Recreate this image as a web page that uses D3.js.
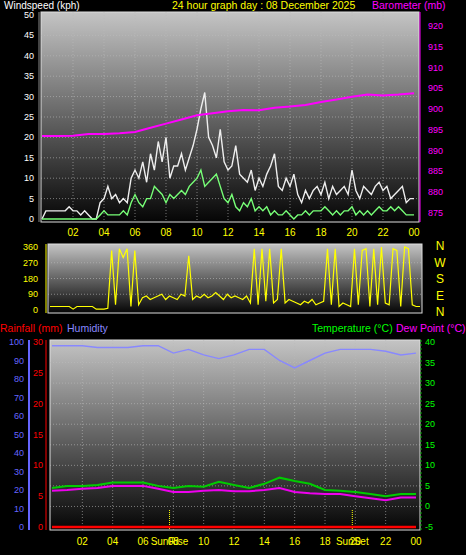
<!DOCTYPE html>
<html><head><meta charset="utf-8">
<script src="https://cdn.jsdelivr.net/npm/d3@7"></script>
<style>body{margin:0;background:#000}svg{display:block;font-family:"Liberation Sans",Arial,sans-serif}</style>
</head><body><svg id="c" width="466" height="555"></svg>
<script>
// 15 minute samples, 00:00 .. 24:00
var gust = [0,2,2,2, 2,2,2,3, 2,2,1,2, 1,0,0,4, 5,8,5,6, 4,5,4,10, 12,10,14,9, 16,12,19,14, 20,10,13,13, 16,12,15,18,
  22,27,31,20, 18,15,22,14, 12,13,18,11, 10,9,12,7, 10,8,11,13, 16,8,7,10, 8,11,6,4, 7,5,7,8, 6,9,5,8, 6,7,8,6,
  12,7,5,8, 7,6,8,9, 7,8,5,6, 7,8,4,5, 5];
var avgWind = [0,0,0,0, 0,0,0,0, 0,0,0,0, 0,0,0,1, 2,1,1,1, 1,2,1,4, 6,4,3,5, 5,8,7,6, 4,6,5,6, 7,6,8,9,
  10,12,8,9, 10,11,8,5, 4,6,3,2, 4,3,5,2, 3,2,3,1, 2,1,1,2, 1,0,1,1, 2,1,2,2, 2,3,2,1, 2,1,2,2,
  3,1,2,1, 2,1,2,3, 2,2,3,2, 3,2,1,1, 1];
var windDir = [20,20,20,20, 20,20,5,20, 20,20,20,20, 5,5,5,10, 340,30,350,300, 350,20,340,30, 70,80,60,70, 80,90,60,80,
  70,60,90,80, 310,60,80,70, 90,70,80,100, 80,60,90,70, 80,70,60,80, 40,350,30,350, 50,350,40,60, 350,40,60,50,
  40,30,50,40, 60,30,40,50, 350,30,350,20, 40,30,20,350, 30,340,350,20, 350,30,360,40, 30,350,340,20, 360,350,30,20, 20];
// hourly
var baro = [893.5,893.5,893.6,894,894,894.2,894.5,895.5,896.5,897.5,898.5,899,899.5,899.8,899.7,900.3,900.6,901,901.7,902.3,903,903.5,903.3,903.5,903.8];
var temp = [4.5,5,5,5.2,5.8,5.8,5.8,5,4.5,5,4.8,6,5.2,4.5,5.5,7,6.2,5.5,4,3.8,3.5,3,2.5,3,3];
var dew = [3.8,4,4.3,4.5,5,5,5,4.3,3.5,3.5,3.8,4,3.7,3.7,4,4.5,3.5,3.2,3,3,2.5,2,1.5,2.2,2.2];
var humidity = [98,98,98,97,97,97,98,98,94,96,93,91,93,96,96,90,86,90,94,96,96,96,95,93,94];
var rain = [0,0,0,0,0,0,0,0,0,0,0,0,0,0,0,0,0,0,0,0,0,0,0,0,0];
var hourTicks = ["02","04","06","08","10","12","14","16","18","20","22","00"];
var sunrise = 7.75, sunset = 19.8;

var svg = d3.select("#c");
var defs = svg.append("defs");
var g = defs.append("linearGradient").attr("id","bg").attr("x1",0).attr("x2",0).attr("y1",0).attr("y2",1);
g.append("stop").attr("offset","0%").attr("stop-color","#c4c4c4");
g.append("stop").attr("offset","100%").attr("stop-color","#050505");

function txt(x,y,t,c,anchor,size){
  svg.append("text").attr("x",x).attr("y",y).attr("fill",c).attr("font-size",size||11)
    .attr("text-anchor",anchor||"start").text(t);
}
function panel(x0,x1,y0,y1){
  svg.append("rect").attr("x",x0).attr("y",y0).attr("width",x1-x0).attr("height",y1-y0).attr("fill","url(#bg)")
    .attr("stroke","#ddd").attr("stroke-width",1);
}
function vgrid(x,y0,y1){
  for (var h=2; h<24; h+=2)
    svg.append("line").attr("x1",x(h)).attr("x2",x(h)).attr("y1",y0).attr("y2",y1)
      .attr("stroke","#bbb").attr("stroke-opacity",0.6).attr("stroke-dasharray","1,2");
}
function hgrid(ys,x0,x1){
  ys.forEach(function(yy){
    svg.append("line").attr("x1",x0).attr("x2",x1).attr("y1",yy).attr("y2",yy)
      .attr("stroke","#bbb").attr("stroke-opacity",0.6).attr("stroke-dasharray","1,2");
  });
}
function ticksAxis(x,y,col,labels){
  labels.forEach(function(l,i){ txt(x((i+1)*2),y,l,col,"middle",10); });
}
var q = d3.range(97).map(function(i){return i/4;});
var hrs = d3.range(25);

// ---- top: wind & barometer
txt(4,9,"Windspeed (kph)","#fff","start",10);
txt(172,9,"24 hour graph day : 08 December 2025","#ff0","start",10.5);
txt(372,9,"Barometer (mb)","#f0f","start",10.5);
var xT = d3.scaleLinear().domain([0,24]).range([42,414]);
var yW = d3.scaleLinear().domain([0,50]).range([219,15]);
var yB = d3.scaleLinear().domain([875,920]).range([213,26]);
panel(41,419,12,222);
hgrid(d3.range(5,50,5).map(yW),41,419);
vgrid(xT,12,222);
d3.range(0,51,5).forEach(function(v){ txt(34,yW(v)+3,v,"#fff","end",9); });
d3.range(875,921,5).forEach(function(v){ txt(428,yB(v)+3,v,"#f0f","start",9); });
svg.append("line").attr("x1",39).attr("x2",39).attr("y1",12).attr("y2",222).attr("stroke","#888");
svg.append("line").attr("x1",420).attr("x2",420).attr("y1",12).attr("y2",222).attr("stroke","#f0f");
ticksAxis(xT,236,"#ff0",hourTicks);
var lineQ = function(xs,ys,arr){ return d3.line().x(function(d,i){return xs(q[i]);}).y(function(d){return ys(d);})(arr); };
svg.append("path").attr("d",lineQ(xT,yW,gust)).attr("fill","none").attr("stroke","#eee").attr("stroke-width",1.4);
svg.append("path").attr("d",lineQ(xT,yW,avgWind)).attr("fill","none").attr("stroke","#7f7").attr("stroke-width",1.4);
svg.append("path").attr("d",d3.line().x(function(d,i){return xT(i);}).y(function(d){return yB(d);})(baro))
  .attr("fill","none").attr("stroke","#f0f").attr("stroke-width",2);

// ---- middle: wind direction
var xD = d3.scaleLinear().domain([0,24]).range([50,420]);
var yD = d3.scaleLinear().domain([0,360]).range([310,247]);
panel(48,422,244,313);
hgrid([90,180,270].map(yD),48,422);
[0,90,180,270,360].forEach(function(v){ txt(38,yD(v)+3,v,"#ff0","end",9); });
svg.append("line").attr("x1",46).attr("x2",46).attr("y1",244).attr("y2",313).attr("stroke","#ff0");
["N","W","S","E","N"].forEach(function(l,i){ txt(440,250+i*16.5,l,"#ff0","middle",12); });
svg.append("path").attr("d",lineQ(xD,yD,windDir)).attr("fill","none").attr("stroke","#ff0").attr("stroke-width",1.2);

// ---- bottom: temperature, humidity, rain
txt(0,332,"Rainfall (mm)","#f00","start",10.5);
txt(67,332,"Humidity","#88f","start",10.5);
txt(312,332,"Temperature (°C)","#0f0","start",10.5);
txt(396,332,"Dew Point (°C)","#f0f","start",10.5);
var xB = d3.scaleLinear().domain([0,24]).range([52,416]);
var yH = d3.scaleLinear().domain([0,100]).range([527,342]);
var yR = d3.scaleLinear().domain([0,30]).range([527,342]);
var yC = d3.scaleLinear().domain([-5,40]).range([527,342]);
panel(50,420,340,530);
hgrid(d3.range(0,40,5).map(yC),50,420);
vgrid(xB,340,530);
d3.range(0,101,10).forEach(function(v){ txt(24,yH(v)+3,v,"#66f","end",9); });
d3.range(0,31,5).forEach(function(v){ txt(43,yR(v)+3,v,"#f00","end",9); });
d3.range(-5,41,5).forEach(function(v){ txt(425,yC(v)+3,v,"#0f0","start",9); });
svg.append("line").attr("x1",29).attr("x2",29).attr("y1",340).attr("y2",530).attr("stroke","#66f").attr("stroke-width",2);
svg.append("line").attr("x1",46).attr("x2",46).attr("y1",340).attr("y2",530).attr("stroke","#f00").attr("stroke-width",1);
svg.append("line").attr("x1",421).attr("x2",421).attr("y1",340).attr("y2",530).attr("stroke","#0a0").attr("stroke-dasharray","2,2");
ticksAxis(xB,545,"#ff0",hourTicks);
[sunrise,sunset].forEach(function(s,i){
  svg.append("line").attr("x1",xB(s)).attr("x2",xB(s)).attr("y1",510).attr("y2",530).attr("stroke","#ff0").attr("stroke-dasharray","1,1");
  txt(xB(s),545,i?"SunSet":"SunRise","#ff0","middle",10);
});
var lineH = function(ys,arr){ return d3.line().x(function(d,i){return xB(hrs[i]);}).y(function(d){return ys(d);})(arr); };
svg.append("path").attr("d",lineH(yH,humidity)).attr("fill","none").attr("stroke","#88f").attr("stroke-width",1.4);
svg.append("path").attr("d",lineH(yC,temp)).attr("fill","none").attr("stroke","#0c0").attr("stroke-width",2);
svg.append("path").attr("d",lineH(yC,dew)).attr("fill","none").attr("stroke","#e0e").attr("stroke-width",2);
svg.append("path").attr("d",lineH(yR,rain)).attr("fill","none").attr("stroke","#f00").attr("stroke-width",2.5);
</script></body></html>
